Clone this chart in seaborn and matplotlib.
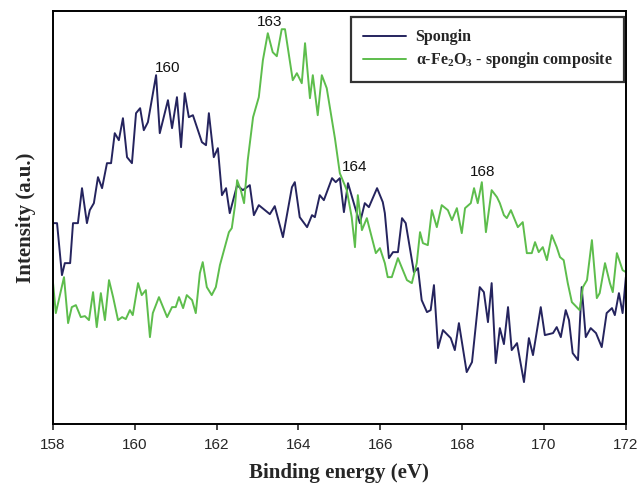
import numpy as np
import pandas as pd
import matplotlib
matplotlib.use("Agg")
import matplotlib.pyplot as plt
import seaborn as sns

# ==========================================
# data
# ==========================================
spongin_energy = [
    158.00, 158.10, 158.22, 158.29, 158.42, 158.49, 158.61, 158.71, 158.83, 158.90,
    159.00, 159.10, 159.20, 159.32, 159.42, 159.51, 159.61, 159.71, 159.81, 159.93,
    160.03, 160.13, 160.22, 160.32, 160.52, 160.61, 160.81, 160.91, 161.03, 161.13,
    161.22, 161.32, 161.42, 161.64, 161.74, 161.81, 161.93, 162.03, 162.13, 162.23,
    162.32, 162.50, 162.64, 162.81, 162.91, 163.03, 163.30, 163.42, 163.62, 163.84,
    163.91, 164.03, 164.21, 164.33, 164.40, 164.52, 164.62, 164.82, 164.91, 165.01,
    165.11, 165.21, 165.38, 165.50, 165.62, 165.72, 165.92, 166.06, 166.11, 166.21,
    166.31, 166.43, 166.53, 166.62, 166.82, 166.92, 167.01, 167.14, 167.23, 167.31,
    167.41, 167.53, 167.72, 167.82, 167.92, 168.11, 168.24, 168.43, 168.53, 168.63,
    168.72, 168.82, 168.92, 169.02, 169.12, 169.21, 169.34, 169.51, 169.63, 169.73,
    169.92, 170.02, 170.22, 170.31, 170.41, 170.53, 170.61, 170.70, 170.83, 170.92,
    171.02, 171.14, 171.27, 171.41, 171.53, 171.66, 171.73, 171.83, 171.92, 172.00,
]
spongin_intensity = [
    201, 201, 149, 161, 161, 201, 201, 236, 201, 214,
    221, 247, 236, 261, 261, 291, 284, 306, 267, 261,
    311, 316, 294, 302, 349, 291, 324, 296, 327, 277,
    331, 307, 309, 282, 279, 311, 267, 276, 229, 236,
    211, 239, 234, 239, 209, 219, 210, 218, 187, 237,
    242, 207, 197, 209, 207, 229, 224, 246, 242, 246,
    212, 241, 217, 201, 221, 217, 236, 222, 211, 166,
    172, 172, 206, 201, 152, 156, 124, 112, 114, 139,
    76, 94, 86, 74, 101, 52, 62, 137, 132, 102,
    141, 61, 96, 80, 117, 74, 81, 42, 86, 69,
    117, 89, 91, 97, 87, 114, 104, 71, 64, 137,
    87, 96, 91, 77, 111, 116, 109, 131, 111, 147,
]

composite_energy = [
    158.00, 158.07, 158.27, 158.37, 158.46, 158.56, 158.68, 158.78, 158.88, 158.98,
    159.07, 159.17, 159.27, 159.37, 159.47, 159.59, 159.69, 159.78, 159.88, 159.95,
    160.08, 160.17, 160.27, 160.37, 160.44, 160.59, 160.79, 160.91, 161.00, 161.08,
    161.18, 161.27, 161.40, 161.49, 161.59, 161.66, 161.76, 161.88, 161.98, 162.08,
    162.20, 162.30, 162.37, 162.45, 162.50, 162.59, 162.67, 162.76, 162.89, 163.03,
    163.13, 163.25, 163.37, 163.47, 163.59, 163.67, 163.86, 163.96, 164.08, 164.16,
    164.28, 164.35, 164.47, 164.57, 164.69, 164.89, 165.01, 165.18, 165.30, 165.38,
    165.45, 165.55, 165.67, 165.79, 165.89, 165.99, 166.11, 166.18, 166.28, 166.43,
    166.53, 166.65, 166.77, 166.89, 166.97, 167.04, 167.16, 167.26, 167.38, 167.50,
    167.65, 167.75, 167.87, 167.99, 168.07, 168.21, 168.29, 168.38, 168.48, 168.58,
    168.72, 168.85, 168.92, 169.02, 169.09, 169.19, 169.29, 169.36, 169.48, 169.58,
    169.70, 169.78, 169.87, 169.97, 170.07, 170.19, 170.31, 170.39, 170.48, 170.58,
    170.68, 170.87, 170.95, 171.05, 171.17, 171.29, 171.36, 171.49, 171.61, 171.68,
    171.78, 171.92, 172.00,
]
composite_intensity = [
    142, 111, 147, 101, 117, 119, 107, 108, 104, 132,
    97, 131, 104, 144, 127, 104, 107, 105, 114, 109,
    141, 129, 134, 87, 111, 127, 107, 117, 117, 127,
    116, 129, 124, 111, 151, 162, 137, 129, 137, 159,
    177, 192, 196, 219, 244, 234, 221, 264, 307, 327,
    364, 391, 372, 368, 395, 395, 344, 351, 341, 381,
    326, 349, 309, 349, 336, 286, 251, 234, 207, 177,
    229, 194, 206, 187, 171, 176, 161, 147, 147, 166,
    156, 144, 141, 161, 192, 181, 179, 214, 197, 219,
    214, 204, 216, 191, 216, 221, 236, 221, 242, 192,
    234, 227, 221, 209, 206, 214, 204, 197, 202, 171,
    171, 182, 172, 177, 164, 189, 177, 167, 164, 141,
    122, 114, 137, 144, 184, 126, 131, 161, 141, 132,
    171, 154, 152,
]

peak_labels = ["160", "163", "164", "168"]
peak_x = [160.79, 163.30, 165.38, 168.50]
peak_y = [356, 402, 257, 252]

series_names = ["Spongin", r"α-Fe$_\mathbf{2}$O$_\mathbf{3}$ - spongin composite"]
series_colors = ["#25245e", "#5dbd4c"]

df = pd.concat([
    pd.DataFrame({"energy": spongin_energy, "intensity": spongin_intensity, "sample": series_names[0]}),
    pd.DataFrame({"energy": composite_energy, "intensity": composite_intensity, "sample": series_names[1]}),
], ignore_index=True)

# ==========================================
# 绘图
# ==========================================
sns.set_style("white")
plt.rcParams["font.family"] = ["Liberation Sans", "DejaVu Sans"]
plt.rcParams["mathtext.fontset"] = "custom"
plt.rcParams["mathtext.rm"] = "Liberation Serif:bold"
plt.rcParams["mathtext.bf"] = "Liberation Serif:bold"

fig = plt.figure(figsize=(6.38, 4.88), dpi=100)
ax = fig.add_axes([0.083, 0.131, 0.898, 0.846])

sns.lineplot(data=df, x="energy", y="intensity", hue="sample",
             palette=dict(zip(series_names, series_colors)),
             estimator=None, sort=False, linewidth=1.4, ax=ax)

for lab, px, py in zip(peak_labels, peak_x, peak_y):
    ax.text(px, py, lab, ha="center", va="center", fontsize=11, color="#111111")

ax.set_xlim(158, 172)
ax.set_ylim(0, 413)
ax.set_xticks(np.arange(158, 173, 2))
ax.set_yticks([])
ax.tick_params(axis="x", direction="out", length=4, width=1.2, labelsize=11, pad=6,
               bottom=True)
for sp in ax.spines.values():
    sp.set_visible(True)
    sp.set_color("black")
    sp.set_linewidth(1.4)

serif = {"family": "Liberation Serif", "weight": "bold", "size": 15}
ax.set_xlabel("Binding energy (eV)", fontdict=serif, labelpad=8)
ax.set_ylabel("Intensity (a.u.)", fontdict=serif, labelpad=12)

leg = ax.legend(loc="upper right", bbox_to_anchor=(0.997, 0.985), borderaxespad=0,
                frameon=True, fancybox=False, handlelength=2.7, handletextpad=0.6,
                borderpad=0.75, labelspacing=0.3,
                prop={"family": "Liberation Serif", "weight": "bold", "size": 11.5})
leg.get_frame().set_edgecolor("black")
leg.get_frame().set_linewidth(1.6)

fig.savefig("out.png", dpi=100)
plt.close(fig)
